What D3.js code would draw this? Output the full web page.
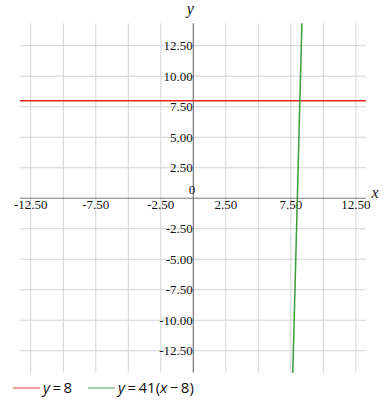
<!DOCTYPE html>
<html><head><meta charset="utf-8">
<script src="https://cdn.jsdelivr.net/npm/d3@7"></script>
<style>body{margin:0;background:#fff}svg{display:block}</style>
</head><body>
<script>
const xDomain = [-13.33, 13.28];
const yDomain = [-14.3, 14.34];
const xTicks = [-12.5, -7.5, -2.5, 2.5, 7.5, 12.5];
const xGridTicks = [-12.5, -10, -7.5, -5, -2.5, 0, 2.5, 5, 7.5, 10, 12.5];
const yTicks = [-12.5, -10, -7.5, -5, -2.5, 2.5, 5, 7.5, 10, 12.5];
const seriesNames = ["y = 8", "y = 41(x − 8)"];
const seriesColors = ["#dd2626", "#3d9a3d"];
// line endpoints at domain edges
const redLine = [[-13.33, 8], [13.28, 8]];
const greenLine = [[7.6512, -14.3], [8.3498, 14.34]];

const W = 384, H = 408;
const svg = d3.select("body").append("svg").attr("width", W).attr("height", H);
const x = d3.scaleLinear().domain(xDomain).range([20, 366]);
const y = d3.scaleLinear().domain(yDomain).range([372.7, 23.3]);

const grid = svg.append("g").attr("stroke", "#d3d3d3").attr("stroke-width", 1);
xGridTicks.forEach(t => { if (t !== 0) grid.append("line").attr("x1", x(t)).attr("x2", x(t)).attr("y1", y.range()[1]).attr("y2", y.range()[0]); });
yTicks.forEach(t => grid.append("line").attr("x1", x.range()[0]).attr("x2", x.range()[1]).attr("y1", y(t)).attr("y2", y(t)));

// axes
svg.append("line").attr("x1", x.range()[0]).attr("x2", x.range()[1]).attr("y1", y(0)).attr("y2", y(0)).attr("stroke", "#777").attr("stroke-width", 1);
svg.append("line").attr("x1", x(0)).attr("x2", x(0)).attr("y1", y.range()[1]).attr("y2", y.range()[0]).attr("stroke", "#777").attr("stroke-width", 1.2);

const serif = "'Liberation Serif', 'Times New Roman', serif";
const fmt = v => d3.format(".2f")(v).replace("\u2212", "-");
svg.append("g").selectAll("text").data(xTicks).join("text")
  .attr("x", d => x(d)).attr("y", y(0) + 11).attr("text-anchor", "middle")
  .attr("font-family", serif).attr("font-size", 13).attr("fill", "#111").text(d => fmt(d));
svg.append("g").selectAll("text").data(yTicks).join("text")
  .attr("x", x(0) - 0.5).attr("y", d => y(d) + 4.5).attr("text-anchor", "end")
  .attr("font-family", serif).attr("font-size", 13).attr("fill", "#111").text(d => fmt(d));
svg.append("text").attr("x", x(0) + 2).attr("y", y(0) - 4.5).attr("text-anchor", "end")
  .attr("font-family", serif).attr("font-size", 13).attr("fill", "#111").text("0");

svg.append("text").attr("x", x(0) - 3).attr("y", 14).attr("text-anchor", "middle")
  .attr("font-family", serif).attr("font-style", "italic").attr("font-size", 16).attr("fill", "#111").text("y");
svg.append("text").attr("x", 375).attr("y", 198).attr("text-anchor", "middle")
  .attr("font-family", serif).attr("font-style", "italic").attr("font-size", 16).attr("fill", "#111").text("x");

const line = d3.line().x(d => x(d[0])).y(d => y(d[1]));
svg.append("path").attr("d", line(redLine)).attr("stroke", seriesColors[0]).attr("stroke-width", 1.5).attr("fill", "none");
svg.append("path").attr("d", line(greenLine)).attr("stroke", seriesColors[1]).attr("stroke-width", 1.5).attr("fill", "none");

// legend
const sans = "'Open Sans', 'Noto Sans', sans-serif";
const lg = svg.append("g");
const items = [{x0: 13, x1: 40, tx: 43}, {x0: 88, x1: 115, tx: 118}];
items.forEach((it, i) => {
  lg.append("line").attr("x1", it.x0).attr("x2", it.x1).attr("y1", 388).attr("y2", 388)
    .attr("stroke", seriesColors[i]).attr("stroke-opacity", 0.6).attr("stroke-width", 1.5);
  const t = lg.append("text").attr("x", it.tx).attr("y", 393).attr("font-family", sans).attr("font-size", 15).attr("fill", "#111");
  if (i === 0) {
    t.append("tspan").attr("font-style", "italic").text("y");
    t.append("tspan").text("\u2009=\u20098");
  } else {
    t.append("tspan").attr("font-style", "italic").text("y");
    t.append("tspan").text("\u2009=\u200941(");
    t.append("tspan").attr("font-style", "italic").text("x");
    t.append("tspan").text("\u2009−\u20098)");
  }
});
</script>
</body></html>
